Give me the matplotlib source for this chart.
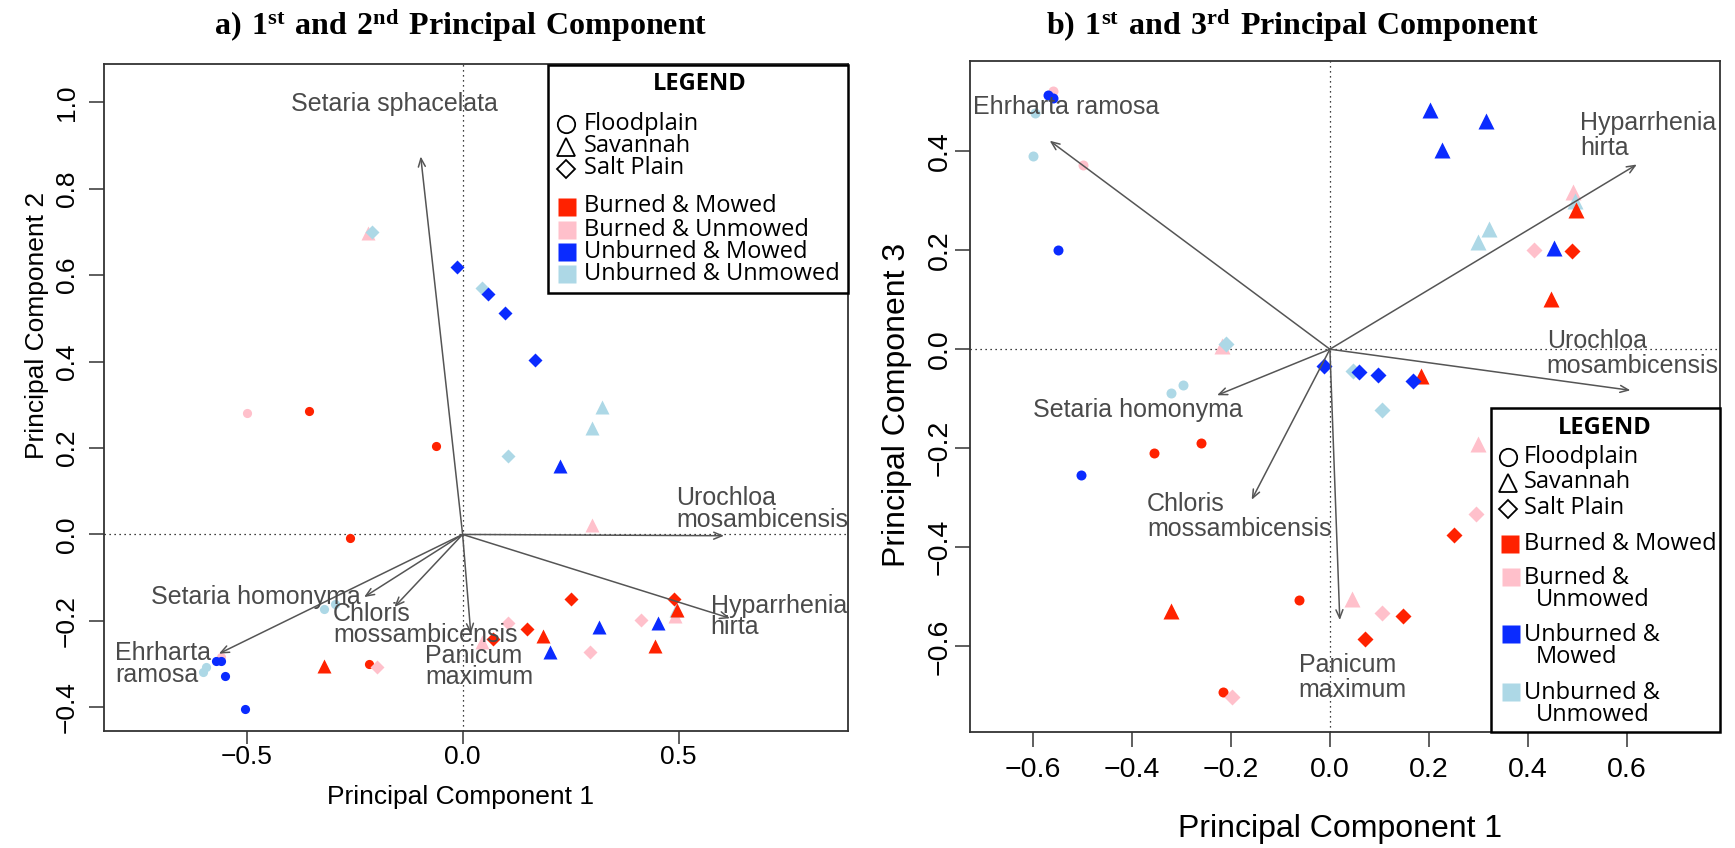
import matplotlib
matplotlib.use("Agg")
import matplotlib.pyplot as plt
from matplotlib.lines import Line2D
from matplotlib.patches import Rectangle
from matplotlib.ticker import FuncFormatter

plt.rcParams['font.family'] = ['Liberation Sans', 'DejaVu Sans']
plt.rcParams['mathtext.fontset'] = 'custom'
plt.rcParams['mathtext.bf'] = 'Liberation Serif:bold'
plt.rcParams['mathtext.rm'] = 'Liberation Serif:bold'

# ---- sample scores (F = floodplain, S = savannah, P = salt plain) ----
habitat = ['F'] * 14 + ['S'] * 15 + ['P'] * 15
treatment = ['BM', 'BM', 'BM', 'BM', 'BU', 'BU', 'UU', 'UU', 'UU', 'UU', 'UM', 'UM', 'UM', 'UM',
             'BM', 'BM', 'BM', 'BU', 'BU', 'BU', 'BU', 'UU', 'UU', 'UU', 'BM', 'UM', 'UM', 'UM', 'UM',
             'UU', 'BM', 'BM', 'BM', 'BM', 'BU', 'BU', 'BU', 'BU', 'UU', 'UU', 'UM', 'UM', 'UM', 'UM']
pc1 = [-0.356, -0.062, -0.260, -0.216, -0.498, -0.560, -0.600, -0.595, -0.320, -0.296, -0.570, -0.560, -0.549, -0.503,
       -0.320, 0.185, 0.446, -0.218, 0.044, 0.300, 0.491, 0.299, 0.322, 0.495, 0.497, 0.203, 0.226, 0.316, 0.452,
       -0.210, 0.070, 0.148, 0.250, 0.489, -0.198, 0.106, 0.296, 0.412, 0.046, 0.106, -0.012, 0.058, 0.097, 0.168]
pc2 = [0.285, 0.205, -0.008, -0.301, 0.280, -0.284, -0.319, -0.307, -0.173, -0.160, -0.293, -0.293, -0.328, -0.403,
       -0.305, -0.235, -0.258, 0.698, -0.250, 0.023, -0.188, 0.247, 0.296, -0.176, -0.174, -0.272, 0.158, -0.215, -0.206,
       0.700, -0.242, -0.218, -0.149, -0.150, -0.307, -0.204, -0.272, -0.198, 0.570, 0.182, 0.620, 0.557, 0.512, 0.404]
pc3 = [-0.210, -0.507, -0.190, -0.692, 0.372, 0.522, 0.391, 0.476, -0.089, -0.072, 0.514, 0.508, 0.201, -0.254,
       -0.529, -0.055, 0.102, 0.006, -0.505, -0.192, 0.318, 0.217, 0.242, 0.300, 0.281, 0.484, 0.402, 0.461, 0.204,
       0.010, -0.586, -0.538, -0.376, 0.198, -0.702, -0.533, -0.332, 0.201, -0.044, -0.123, -0.033, -0.046, -0.053, -0.064]

# ---- species loadings ----
species_a = ['Setaria sphacelata', 'Urochloa\nmosambicensis', 'Hyparrhenia\nhirta', 'Panicum\nmaximum',
             'Chloris\nmossambicensis', 'Setaria homonyma', 'Ehrharta\nramosa']
load_a_x = [-0.097, 0.605, 0.619, 0.019, -0.158, -0.228, -0.564]
load_a_y = [0.875, -0.003, -0.194, -0.230, -0.168, -0.145, -0.276]
lab_a_x = [-0.397, 0.494, 0.574, -0.087, -0.300, -0.721, -0.805]
lab_a_y = [0.997, 0.059, -0.190, -0.305, -0.208, -0.145, -0.300]

species_b = ['Ehrharta ramosa', 'Hyparrhenia\nhirta', 'Urochloa\nmosambicensis', 'Setaria homonyma',
             'Chloris\nmossambicensis', 'Panicum\nmaximum']
load_b_x = [-0.566, 0.620, 0.607, -0.228, -0.158, 0.020]
load_b_y = [0.421, 0.373, -0.083, -0.093, -0.304, -0.547]
lab_b_x = [-0.721, 0.505, 0.438, -0.599, -0.369, -0.063]
lab_b_y = [0.489, 0.432, -0.009, -0.122, -0.338, -0.662]

hab_names = ['Floodplain', 'Savannah', 'Salt Plain']
hab_marker = {'F': 'o', 'S': '^', 'P': 'D'}
trt_names = ['Burned & Mowed', 'Burned & Unmowed', 'Unburned & Mowed', 'Unburned & Unmowed']
trt_color = {'BM': '#FF2200', 'BU': '#FFC0CB', 'UM': '#0A2BFF', 'UU': '#ADD8E6'}

W, H = 1735, 848
def fx(x):
  return x / W
def fy(y):
  return 1 - y / H

fig = plt.figure(figsize=(W / 100, H / 100), dpi=100)
ax1 = fig.add_axes([fx(104), fy(731), (848 - 104) / W, (731 - 64) / H])
ax2 = fig.add_axes([fx(970), fy(732), (1720 - 970) / W, (732 - 61) / H])

fmt = FuncFormatter(lambda v, p: ('%.1f' % v).replace('-', '\u2212') if abs(v) > 1e-9 else '0.0')

def draw_panel(ax, ys, sizes, lx, ly, names, tx, ty, lsp, tsize, ypad):
  ax.axhline(0, color='black', lw=0.9, ls=(0, (1, 3)), zorder=1)
  ax.axvline(0, color='black', lw=0.9, ls=(0, (1, 3)), zorder=1)
  for i in range(len(pc1)):
    m = hab_marker[habitat[i]]
    ax.plot(pc1[i], ys[i], marker=m, ls='none', ms=sizes[m], color=trt_color[treatment[i]],
            mec='none', zorder=3)
  for i in range(len(names)):
    ax.annotate('', xy=(lx[i], ly[i]), xytext=(0, 0),
                arrowprops=dict(arrowstyle='->,head_length=0.6,head_width=0.25', color='#555555',
                                lw=1.1, shrinkA=0, shrinkB=0), zorder=4)
    ax.text(tx[i], ty[i], names[i], ha='left', va='center', color='#4a4a4a', fontsize=18,
            linespacing=lsp, zorder=5)
  for s in ax.spines.values():
    s.set_color('#333333')
    s.set_linewidth(1.3)
  ax.tick_params(direction='out', length=11, width=1.1, color='#333333', labelsize=tsize, pad=7)
  ax.tick_params(axis='y', labelrotation=90, pad=ypad)
  for lab in ax.get_yticklabels():
    lab.set_va('center')
  ax.xaxis.set_major_formatter(fmt)
  ax.yaxis.set_major_formatter(fmt)

ax1.set_xlim(-0.830, 0.892)
ax1.set_ylim(-0.455, 1.089)
ax1.set_xticks([-0.5, 0.0, 0.5])
ax1.set_yticks([-0.4, -0.2, 0.0, 0.2, 0.4, 0.6, 0.8, 1.0])
draw_panel(ax1, pc2, {'o': 6.6, '^': 10.5, 'D': 7.3}, load_a_x, load_a_y, species_a,
           lab_a_x, lab_a_y, 0.85, 19, 7)
ax1.tick_params(axis='x', length=9, pad=1)

ax2.set_xlim(-0.727, 0.788)
ax2.set_ylim(-0.773, 0.582)
ax2.set_xticks([-0.6, -0.4, -0.2, 0.0, 0.2, 0.4, 0.6])
ax2.set_yticks([-0.6, -0.4, -0.2, 0.0, 0.2, 0.4])
draw_panel(ax2, pc3, {'o': 7.2, '^': 11.5, 'D': 7.8}, load_b_x, load_b_y, species_b,
           lab_b_x, lab_b_y, 1.05, 20.5, 1.5)

# titles and axis labels
fig.text(fx(461), fy(35), r'$\mathbf{a)\ 1^{st}\ and\ 2^{nd}\ Principal\ Component}$',
         ha='center', va='baseline', fontsize=23)
fig.text(fx(1292), fy(35), r'$\mathbf{b)\ 1^{st}\ and\ 3^{rd}\ Principal\ Component}$',
         ha='center', va='baseline', fontsize=23)
fig.text(fx(460), fy(797), 'Principal Component 1', ha='center', va='center', fontsize=19)
fig.text(fx(37), fy(325), 'Principal Component 2', ha='center', va='center', fontsize=19, rotation=90)
fig.text(fx(1340), fy(829), 'Principal Component 1', ha='center', va='center', fontsize=23)
fig.text(fx(897), fy(405), 'Principal Component 3', ha='center', va='center', fontsize=23, rotation=90)

# ---- legends ----
LEG_FONT = ['Open Sans', 'DejaVu Sans']

def leg_box(x0, y0, x1, y1):
  fig.add_artist(Rectangle((fx(x0), fy(y1)), (x1 - x0) / W, (y1 - y0) / H, transform=fig.transFigure,
                           fc='white', ec='black', lw=1.8, zorder=20))

def leg_marker(x, y, m, col, ms, open_=False):
  if open_:
    fig.add_artist(Line2D([fx(x)], [fy(y)], marker=m, ls='none', ms=ms, mfc='none', mec='black',
                          mew=1.3, transform=fig.transFigure, zorder=21))
  else:
    fig.add_artist(Line2D([fx(x)], [fy(y)], marker=m, ls='none', ms=ms, color=col, mec='none',
                          transform=fig.transFigure, zorder=21))

def leg_text(x, y, s, bold=False, ha='left'):
  t = fig.text(fx(x), fy(y), s, ha=ha, va='center', fontsize=17, family=LEG_FONT,
               fontweight='bold' if bold else 'normal', zorder=22)
  return t

# left legend
leg_box(548, 65, 848, 293)
leg_text(700, 84, 'LEGEND', bold=True, ha='center')
hab_open = {'o': 12.5, '^': 12.5, 'D': 9.5}
for k, yy in zip(['o', '^', 'D'], [124, 146.5, 168.5]):
  leg_marker(566, yy, k, None, hab_open[k], open_=True)
for name, yy in zip(hab_names, [124, 146.5, 168.5]):
  leg_text(584, yy, name)
for key, name, yy in zip(['BM', 'BU', 'UM', 'UU'], trt_names, [206.5, 229.5, 251.5, 274]):
  leg_marker(566.5, yy, 's', trt_color[key], 12.5)
  leg_text(584, yy, name)

# right legend
leg_box(1491, 408, 1720, 732)
leg_text(1605, 428, 'LEGEND', bold=True, ha='center')
for k, yy in zip(['o', '^', 'D'], [457, 482.5, 508.5]):
  leg_marker(1508, yy, k, None, hab_open[k], open_=True)
for name, yy in zip(hab_names, [457, 482.5, 508.5]):
  leg_text(1524, yy, name)
leg_marker(1510, 543.5, 's', trt_color['BM'], 12.5)
leg_text(1524, 543.5, trt_names[0])
for key, yy, first, second in zip(['BU', 'UM', 'UU'], [577, 634, 692],
                                  ['Burned &', 'Unburned &', 'Unburned &'],
                                  ['Unmowed', 'Mowed', 'Unmowed']):
  leg_marker(1511, yy, 's', trt_color[key], 12.5)
  leg_text(1524, yy + 1, first)
  leg_text(1536, yy + 23, second)

fig.savefig('out.png', dpi=100)
